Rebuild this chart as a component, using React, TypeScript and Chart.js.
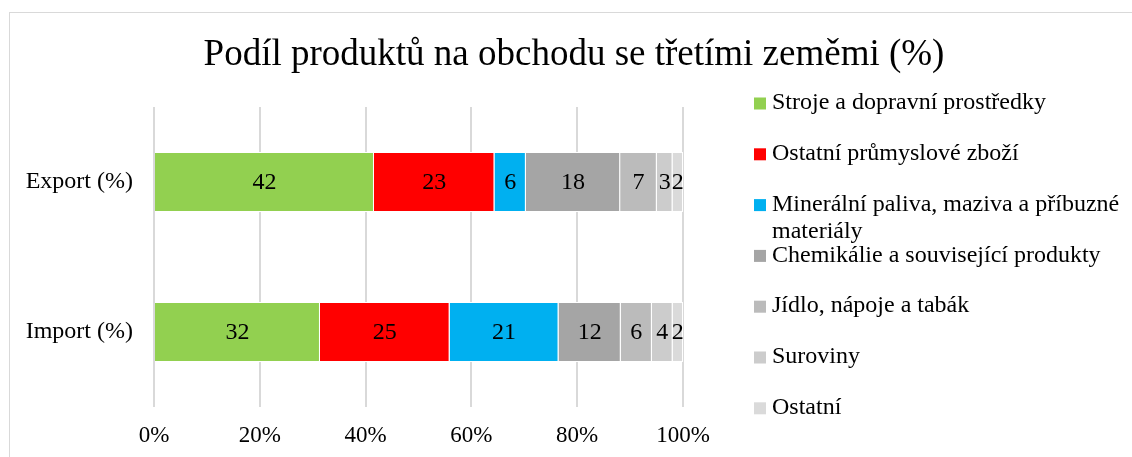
import React, { useEffect, useRef } from "react";
import { Chart, registerables } from "chart.js";

Chart.register(...registerables);

const titleText = "Podíl produktů na obchodu se třetími zeměmi (%)";
const categories = ["Export (%)", "Import (%)"];
const seriesNames = [
  "Stroje a dopravní prostředky",
  "Ostatní průmyslové zboží",
  "Minerální paliva, maziva a příbuzné materiály",
  "Chemikálie a související produkty",
  "Jídlo, nápoje a tabák",
  "Suroviny",
  "Ostatní",
];
const seriesColors = ["#92D050", "#FF0000", "#00B0F0", "#A5A5A5", "#BBBBBB", "#CCCCCC", "#DADADA"];
// raw values as labelled; the chart is a 100 % stacked bar
const exportValues = [42, 23, 6, 18, 7, 3, 2];
const importValues = [32, 25, 21, 12, 6, 4, 2];
const xMin = 0;
const xMax = 100;
const xStep = 20;

const FONT = '"Liberation Serif", "Times New Roman", serif';

const rowTotals = [exportValues, importValues].map((arr) => arr.reduce((a, b) => a + b, 0));

const dataLabelPlugin = {
  id: "dataLabels",
  afterDatasetsDraw(chart: any) {
    const ctx = chart.ctx;
    ctx.save();
    ctx.font = `24px ${FONT}`;
    ctx.fillStyle = "#000";
    ctx.textAlign = "center";
    ctx.textBaseline = "middle";
    chart.data.datasets.forEach((ds: any, i: number) => {
      const meta = chart.getDatasetMeta(i);
      meta.data.forEach((bar: any, j: number) => {
        const v = ds.raw[j] as number;
        const p = bar.getProps(["x", "y", "base"], true);
        ctx.fillText(String(v), (p.x + p.base) / 2, p.y + 1);
      });
    });
    ctx.restore();
  },
};

const sideLegendPlugin = {
  id: "sideLegend",
  afterDraw(chart: any) {
    const ctx = chart.ctx;
    const area = chart.chartArea;
    const boxX = area.right + 71;
    const textX = boxX + 18;
    const maxW = chart.width - textX - 2;
    const y0 = area.top - 4;
    const step = 50.8;
    ctx.save();
    ctx.font = `24px ${FONT}`;
    ctx.textAlign = "left";
    ctx.textBaseline = "middle";
    chart.data.datasets.forEach((ds: any, i: number) => {
      const y = y0 + i * step;
      ctx.fillStyle = ds.backgroundColor;
      ctx.fillRect(boxX, y - 5.5, 12, 12);
      ctx.fillStyle = "#000";
      const words = String(ds.label).split(" ");
      const lines: string[] = [];
      let cur = "";
      words.forEach((w) => {
        const t = cur ? cur + " " + w : w;
        if (ctx.measureText(t).width > maxW && cur) {
          lines.push(cur);
          cur = w;
        } else cur = t;
      });
      if (cur) lines.push(cur);
      lines.forEach((ln, k) => ctx.fillText(ln, textX, y + k * 27));
    });
    ctx.restore();
  },
};

export default function App() {
  const ref = useRef<HTMLCanvasElement | null>(null);

  useEffect(() => {
    if (!ref.current) return;
    const datasets = seriesNames.map((name, i) => ({
      label: name,
      raw: [exportValues[i], importValues[i]],
      data: [(exportValues[i] / rowTotals[0]) * 100, (importValues[i] / rowTotals[1]) * 100],
      backgroundColor: seriesColors[i],
      borderColor: "#FFFFFF",
      borderWidth: 1,
      barPercentage: 0.4,
      categoryPercentage: 1,
    }));
    const chart = new Chart(ref.current, {
      type: "bar",
      data: { labels: categories, datasets },
      options: {
        indexAxis: "y",
        responsive: false,
        animation: false,
        layout: { padding: { left: 16, right: 0, top: 0, bottom: 0 } },
        plugins: {
          legend: { display: false },
          tooltip: { enabled: false },
          title: {
            display: true,
            text: titleText,
            color: "#000",
            font: { family: FONT, size: 37, weight: "normal" },
            padding: { top: 33, bottom: 29.6 },
          },
        },
        scales: {
          x: {
            type: "linear",
            stacked: true,
            min: xMin,
            max: xMax,
            ticks: {
              stepSize: xStep,
              callback: (v: any) => v + "%",
              color: "#000",
              font: { family: FONT, size: 23 },
              padding: 15,
            },
            grid: { color: "#D9D9D9", lineWidth: 2, drawTicks: false },
            border: { display: false },
            afterFit: (s: any) => {
              s.height = 50;
            },
          },
          y: {
            type: "category",
            stacked: true,
            ticks: { color: "#000", font: { family: FONT, size: 24 }, padding: 13 },
            grid: { display: false },
            border: { display: false },
            afterFit: (s: any) => {
              s.width = 138;
            },
          },
          yR: {
            type: "linear",
            position: "right",
            display: true,
            grid: { display: false, drawTicks: false },
            ticks: { display: false },
            border: { display: false },
            afterFit: (s: any) => {
              s.width = 449;
            },
          },
        },
      } as any,
      plugins: [dataLabelPlugin, sideLegendPlugin],
    });
    return () => chart.destroy();
  }, []);

  return (
    <div
      style={{
        position: "fixed",
        left: 0,
        top: 0,
        width: 1132,
        height: 457,
        overflow: "hidden",
        background: "#fff",
      }}
    >
      <div
        style={{
          position: "absolute",
          left: 9,
          top: 12,
          width: 2000,
          height: 1000,
          border: "1px solid #D9D9D9",
        }}
      />
      <canvas
        ref={ref}
        width={1132}
        height={457}
        style={{ position: "absolute", left: 0, top: 0, width: 1132, height: 457 }}
      />
    </div>
  );
}
